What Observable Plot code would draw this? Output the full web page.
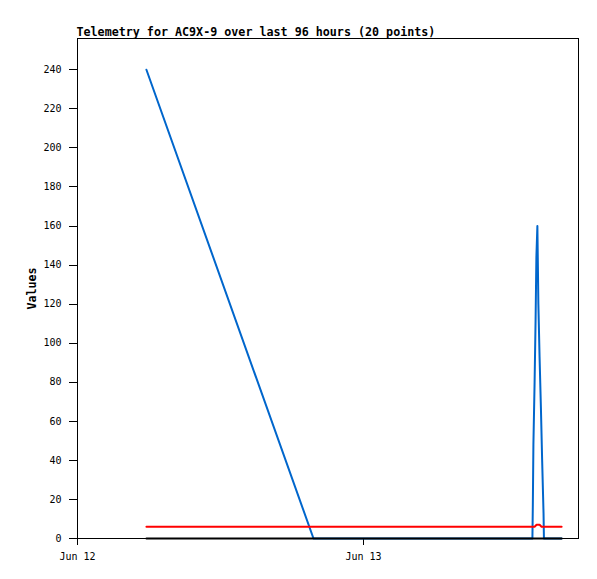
<!DOCTYPE html>
<html><head><meta charset="utf-8">
<script src="https://cdn.jsdelivr.net/npm/d3@7"></script>
<script src="https://cdn.jsdelivr.net/npm/@observablehq/plot@0.6"></script>
<style>
body{margin:0;background:#fff}
svg rect, svg g[aria-label="y-axis tick"] path, svg g[aria-label="x-axis tick"] path {shape-rendering:crispEdges}
</style>
</head><body><div id="chart"></div>
<script>
const title = "Telemetry for AC9X-9 over last 96 hours (20 points)";
const yLabel = "Values";
const xTicks = ["2024-06-12T00:00Z", "2024-06-13T00:00Z"];
const yTicks = [0, 20, 40, 60, 80, 100, 120, 140, 160, 180, 200, 220, 240];
const xDomain = ["2024-06-12T00:00Z", "2024-06-13T18:02Z"];
const yDomain = [0, 256];

const blueTimes = ["2024-06-12T05:47Z", "2024-06-12T19:48Z", "2024-06-13T14:10Z", "2024-06-13T14:12Z",
  "2024-06-13T14:15Z", "2024-06-13T14:21Z", "2024-06-13T14:26Z", "2024-06-13T14:30Z", "2024-06-13T14:35Z",
  "2024-06-13T14:40Z", "2024-06-13T14:46Z", "2024-06-13T14:53Z", "2024-06-13T14:59Z", "2024-06-13T15:06Z",
  "2024-06-13T15:08Z", "2024-06-13T16:37Z"];
const blueValues = [240, 0, 0, 16, 48, 80, 112, 144, 160, 120, 93, 66, 40, 13, 0, 0];

const redTimes = ["2024-06-12T05:47Z", "2024-06-13T14:21Z", "2024-06-13T14:31Z", "2024-06-13T14:46Z",
  "2024-06-13T14:56Z", "2024-06-13T16:37Z"];
const redValues = [6, 6, 7, 7, 6, 6];

const blackTimes = ["2024-06-12T05:47Z", "2024-06-13T16:37Z"];
const blackValues = [0, 0];

const toRows = (ts, vs) => ts.map((t, i) => ({t: new Date(t), v: vs[i]}));
const blue = toRows(blueTimes, blueValues);
const red = toRows(redTimes, redValues);
const black = toRows(blackTimes, blackValues);

const chart = Plot.plot({
  width: 597, height: 579,
  marginLeft: 77, marginRight: 19, marginTop: 38, marginBottom: 41,
  style: {fontFamily: "DejaVu Sans Mono", fontSize: "10px", color: "black", background: "white"},
  x: {type: "utc", domain: xDomain.map(d => new Date(d))},
  y: {domain: yDomain},
  marks: [
    Plot.axisY({ticks: yTicks, tickSize: 8, tickPadding: 8, label: null}),
    Plot.axisX({ticks: xTicks.map(d => new Date(d)), tickSize: 7, tickPadding: 7, tickFormat: d3.utcFormat("%b %d"), label: null}),
    Plot.line(blue, {x: "t", y: "v", stroke: "#0066CC", strokeWidth: 2}),
    Plot.line(red, {x: "t", y: "v", stroke: "#FF0000", strokeWidth: 2}),
    Plot.line(black, {x: "t", y: "v", stroke: "#000000", strokeWidth: 2}),
    Plot.frame({stroke: "black"}),
    Plot.text([title], {frameAnchor: "top-left", textAnchor: "start", lineAnchor: "bottom", dx: -1, dy: -3, fontWeight: "bold", fontSize: 11.7}),
    Plot.text([yLabel], {frameAnchor: "left", textAnchor: "middle", rotate: -90, dx: -45, fontWeight: "bold", fontSize: 11.7})
  ]
});
document.getElementById("chart").appendChild(chart);
</script>
</body></html>
